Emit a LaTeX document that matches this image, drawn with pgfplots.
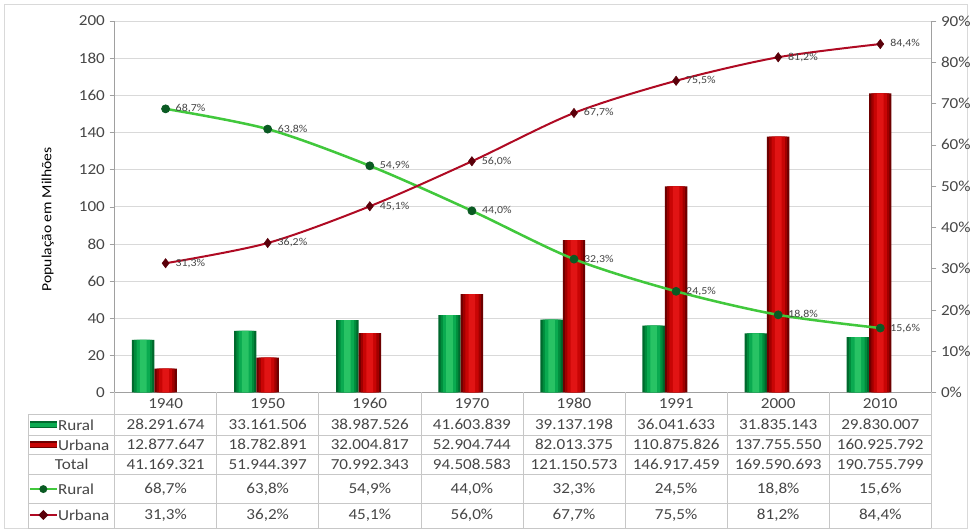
\documentclass[border=0pt]{standalone}
\usepackage{pgfplots}
\pgfplotsset{compat=1.18}
\usepackage{fontspec}
\setmainfont{Carlito}[FakeStretch=1.12]
\definecolor{gridc}{RGB}{217,217,217}
\definecolor{axc}{RGB}{160,160,160}
\definecolor{txt}{RGB}{70,70,70}
\definecolor{g1}{RGB}{0,105,45}
\definecolor{g2}{RGB}{0,140,60}
\definecolor{g3}{RGB}{10,170,80}
\definecolor{g4}{RGB}{40,195,100}
\definecolor{r1}{RGB}{110,0,0}
\definecolor{r2}{RGB}{160,0,0}
\definecolor{r3}{RGB}{200,5,5}
\definecolor{r4}{RGB}{225,20,20}
\definecolor{gline}{RGB}{65,200,60}
\definecolor{gmark}{RGB}{10,90,35}
\definecolor{rline}{RGB}{175,10,35}
\definecolor{rmark}{RGB}{90,0,10}
\newcommand\tabfont{\fontsize{11.5}{13}\selectfont}
\pgfplotsset{/pgf/number format/assume math mode=true}
\begin{document}
\begin{tikzpicture}
\begin{scope}[x=0.75pt,y=0.75pt]
\useasboundingbox (-115,-138) rectangle (860,394);
\fill[white] (-115,-138) rectangle (860,394);
\draw[gridc] (-111,-136) rectangle (856,390);
\end{scope}
\pgfplotstableread{
x rural urbana
0 28.29 12.88
1 33.16 18.78
2 38.99 32.00
3 41.60 52.90
4 39.14 82.01
5 36.04 110.88
6 31.84 137.76
7 29.83 160.93
}\bars
\begin{axis}[at={(0,0)}, anchor=south west, scale only axis,
  width=615pt, height=279.75pt,
  xmin=-0.5, xmax=7.5, ymin=0, ymax=200,
  ytick={0,20,...,200}, xtick=\empty,
  axis x line*=bottom, axis y line*=left,
  axis line style={axc}, tick style={axc},
  tick align=outside, major tick length=3.75pt,
  ymajorgrids, grid style={gridc},
  yticklabel style={text=txt, font=\tabfont},
  ylabel={População em Milhões},
  ylabel style={at={(axis description cs:-0.0817,0.466)}, anchor=center, text=black, font=\fontsize{10.5}{12}\selectfont}]
% Rural bars (layered for gradient)
\addplot[ybar, bar width=16.875pt, bar shift=-16.875pt, draw=none, fill=g1] table[x=x,y=rural] {\bars};
\addplot[ybar, bar width=13.5pt, bar shift=-16.875pt, draw=none, fill=g2] table[x=x,y=rural] {\bars};
\addplot[ybar, bar width=10pt, bar shift=-16.875pt, draw=none, fill=g3] table[x=x,y=rural] {\bars};
\addplot[ybar, bar width=5pt, bar shift=-16.875pt, draw=none, fill=g4] table[x=x,y=rural] {\bars};
% Urbana bars
\addplot[ybar, bar width=16.875pt, bar shift=0pt, draw=none, fill=r1] table[x=x,y=urbana] {\bars};
\addplot[ybar, bar width=13.5pt, bar shift=0pt, draw=none, fill=r2] table[x=x,y=urbana] {\bars};
\addplot[ybar, bar width=10pt, bar shift=0pt, draw=none, fill=r3] table[x=x,y=urbana] {\bars};
\addplot[ybar, bar width=5pt, bar shift=0pt, draw=none, fill=r4] table[x=x,y=urbana] {\bars};
\end{axis}
\begin{axis}[at={(0,0)}, anchor=south west, scale only axis,
  width=615pt, height=279.75pt,
  xmin=-0.5, xmax=7.5, ymin=0, ymax=90,
  ytick={0,10,...,90}, xtick=\empty,
  axis x line=none, axis y line*=right,
  axis line style={axc}, tick style={axc},
  tick align=outside, major tick length=3.75pt,
  yticklabel={\pgfmathprintnumber{\tick}\%},
  yticklabel style={text=txt, font=\tabfont},
  clip=false,
  nodes near coords={\pgfmathprintnumber[fixed,fixed zerofill,precision=1,use comma]{\pgfplotspointmeta}\%},
  every node near coord/.append style={anchor=west, xshift=4pt, text=txt, font=\fontsize{8}{9}\selectfont}]
\addplot[smooth, line width=1.9pt, gline, mark=*, mark size=3pt, mark options={fill=gmark, draw=gmark, line width=0.6pt}]
 coordinates {(0,68.7) (1,63.8) (2,54.9) (3,44.0) (4,32.3) (5,24.5) (6,18.8) (7,15.6)};
\addplot[smooth, line width=1.5pt, rline, mark=diamond*, mark size=3.5pt, mark options={fill=rmark, draw=rmark, line width=0.4pt}]
 coordinates {(0,31.3) (1,36.2) (2,45.1) (3,56.0) (4,67.7) (5,75.5) (6,81.2) (7,84.4)};
\end{axis}
\begin{scope}[x=0.75pt,y=0.75pt]
% table grid
\foreach \yy in {-22,-43,-62,-82,-111,-136} \draw[gridc!80!gray] (-87,\yy) -- (820,\yy);
\draw[gridc!80!gray] (-87,-22) -- (-87,-136);
\foreach \i in {0,...,8} \draw[gridc!80!gray] ({\i*102.5},0) -- ({\i*102.5},-136);
% legend keys
\fill[g1] (-85,-36) rectangle (-58,-29); \fill[g3] (-85,-34.5) rectangle (-58,-30.5);
\fill[r1] (-85,-56) rectangle (-58,-49); \fill[r3] (-85,-54.5) rectangle (-58,-50.5);
\node[anchor=west, text=txt, font=\tabfont, inner sep=0pt] at (-57,-32.5) {Rural};
\node[anchor=west, text=txt, font=\tabfont, inner sep=0pt] at (-57,-52.5) {Urbana};
\node[text=txt, font=\tabfont] at (-43,-72) {Total};
\draw[gline, line width=1.9pt] (-85,-97) -- (-58,-97);
\fill[gmark] (-71.5,-97) circle (4);
\draw[rline, line width=1.5pt] (-85,-123) -- (-58,-123);
\fill[rmark] (-71.5,-118) -- (-66.5,-123) -- (-71.5,-128) -- (-76.5,-123) -- cycle;
\node[anchor=west, text=txt, font=\tabfont, inner sep=0pt] at (-57,-97) {Rural};
\node[anchor=west, text=txt, font=\tabfont, inner sep=0pt] at (-57,-123) {Urbana};
% years
\foreach \yr [count=\i from 0] in {1940,1950,1960,1970,1980,1991,2000,2010}
  \node[text=txt, font=\tabfont] at ({(\i+0.5)*102.5},-11) {\yr};
\foreach \v [count=\i from 0] in {28.291.674,33.161.506,38.987.526,41.603.839,39.137.198,36.041.633,31.835.143,29.830.007}
  \node[text=txt, font=\tabfont] at ({(\i+0.5)*102.5},-32.5) {\v};
\foreach \v [count=\i from 0] in {12.877.647,18.782.891,32.004.817,52.904.744,82.013.375,110.875.826,137.755.550,160.925.792}
  \node[text=txt, font=\tabfont] at ({(\i+0.5)*102.5},-52.5) {\v};
\foreach \v [count=\i from 0] in {41.169.321,51.944.397,70.992.343,94.508.583,121.150.573,146.917.459,169.590.693,190.755.799}
  \node[text=txt, font=\tabfont] at ({(\i+0.5)*102.5},-72) {\v};
\foreach \v [count=\i from 0] in {{68,7\%},{63,8\%},{54,9\%},{44,0\%},{32,3\%},{24,5\%},{18,8\%},{15,6\%}}
  \node[text=txt, font=\tabfont] at ({(\i+0.5)*102.5},-97) {\v};
\foreach \v [count=\i from 0] in {{31,3\%},{36,2\%},{45,1\%},{56,0\%},{67,7\%},{75,5\%},{81,2\%},{84,4\%}}
  \node[text=txt, font=\tabfont] at ({(\i+0.5)*102.5},-123) {\v};
\end{scope}
\end{tikzpicture}
\end{document}
